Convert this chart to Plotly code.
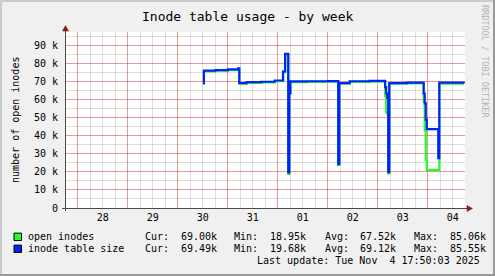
import plotly.graph_objects as go

# ---------------- data ----------------
times = [
    "2025-10-30 12:00", "2025-10-30 12:30", "2025-10-30 18:00", "2025-10-31 00:00",
    "2025-10-31 05:00", "2025-10-31 05:30", "2025-10-31 09:00", "2025-10-31 16:00",
    "2025-10-31 22:30", "2025-11-01 02:30", "2025-11-01 03:30", "2025-11-01 05:00",
    "2025-11-01 05:30", "2025-11-01 06:00", "2025-11-01 14:00", "2025-11-02 00:00",
    "2025-11-02 05:00", "2025-11-02 05:30", "2025-11-02 10:30", "2025-11-02 20:00",
    "2025-11-03 03:30", "2025-11-03 04:00", "2025-11-03 04:30", "2025-11-03 05:00",
    "2025-11-03 05:30", "2025-11-03 14:00", "2025-11-03 21:30", "2025-11-03 22:00",
    "2025-11-03 22:30", "2025-11-03 23:00", "2025-11-03 23:30", "2025-11-04 05:00",
    "2025-11-04 05:30", "2025-11-04 12:00", "2025-11-04 17:30",
]
open_inodes = [
    68900, 75800, 76100, 76500,
    77000, 68900, 69400, 69600,
    70300, 75300, 85060, 18950,
    63300, 69800, 69900, 70000,
    23900, 68900, 69900, 70100,
    62000, 53000, 52000, 19200,
    69000, 69100, 69200, 59000,
    43000, 26600, 21100, 21100,
    69000, 69000, 69000,
]
inode_table_size = [
    69300, 76200, 76500, 76900,
    77400, 69300, 69800, 70000,
    70700, 75700, 85550, 19680,
    63700, 70200, 70300, 70400,
    24300, 69300, 70300, 70500,
    67000, 63500, 61000, 19900,
    69300, 69500, 69600, 63500,
    58000, 49000, 43700, 27600,
    69500, 69500, 69490,
]

series_names = ["open inodes", "inode table size"]
series_colors = ["#22ff22", "#0022ff"]
stat_cur = ["69.00k", "69.49k"]
stat_min = ["18.95k", "19.68k"]
stat_avg = ["67.52k", "69.12k"]
stat_max = ["85.06k", "85.55k"]

y_tickvals = [0, 10000, 20000, 30000, 40000, 50000, 60000, 70000, 80000, 90000]
y_ticktext = ["0", "10 k", "20 k", "30 k", "40 k", "50 k", "60 k", "70 k", "80 k", "90 k"]

day_midnights = ["2025-10-28", "2025-10-29", "2025-10-30", "2025-10-31",
                 "2025-11-01", "2025-11-02", "2025-11-03", "2025-11-04"]
day_noons = [d + " 12:00" for d in day_midnights]
day_labels = ["28", "29", "30", "31", "01", "02", "03", "04"]

x_range = ["2025-10-27 17:50:03", "2025-11-04 17:50:03"]
y_range = [0, 97600]

title_text = "Inode table usage - by week"
y_title = "number of open inodes"
last_update = "Last update: Tue Nov\u00a0\u00a04 17:50:03 2025"
credit = "RRDTOOL / TOBI OETIKER"

# ---------------- geometry ----------------
FIG_W, FIG_H = 495, 276
L, T, W, H = 65, 32, 400, 176
FONT = "DejaVu Sans Mono"


def px(x):
    return (x - L) / W


def py(y):
    return (T + H - y) / H


fig = go.Figure()

for name, vals, col in zip(series_names, [open_inodes, inode_table_size], series_colors):
    fig.add_trace(go.Scatter(
        x=times, y=vals, mode="lines", name=name,
        line=dict(color=col, width=2.2, shape="hv"),
        hoverinfo="skip", showlegend=False,
    ))

# dummy trace to carry the label axis
fig.add_trace(go.Scatter(x=[times[0]], y=[None], xaxis="x2", mode="lines",
                         showlegend=False, hoverinfo="skip"))

fig.update_layout(
    width=FIG_W, height=FIG_H,
    margin=dict(l=L, r=FIG_W - L - W, t=T, b=FIG_H - T - H, pad=0),
    paper_bgcolor="#f0f0f0", plot_bgcolor="#ffffff",
    font=dict(family=FONT, size=10, color="#000000"),
    showlegend=False,
    xaxis=dict(
        type="date", range=x_range, tickmode="array", tickvals=day_midnights,
        ticktext=[""] * len(day_midnights), showgrid=True,
        gridcolor="rgba(255,0,0,0.3)", gridwidth=1, ticks="", zeroline=False,
        showline=False,
        minor=dict(dtick=6 * 3600 * 1000, tick0="2025-10-28 00:00", showgrid=True,
                   gridcolor="rgba(0,0,0,0.13)", gridwidth=1),
    ),
    xaxis2=dict(
        type="date", range=x_range, overlaying="x", anchor="y", side="bottom",
        tickmode="array", tickvals=day_noons, ticktext=day_labels,
        showgrid=False, zeroline=False, showline=False, ticks="",
        tickfont=dict(family=FONT, size=10, color="#000000"),
        ticklabelstandoff=2,
    ),
    yaxis=dict(
        range=y_range, tickmode="array", tickvals=y_tickvals, ticktext=y_ticktext,
        showgrid=True, gridcolor="rgba(255,0,0,0.3)", gridwidth=1,
        zeroline=False, showline=False, ticks="",
        tickfont=dict(family=FONT, size=10, color="#000000"),
        ticklabelstandoff=6,
        minor=dict(dtick=5000, tick0=0, showgrid=True,
                   gridcolor="rgba(0,0,0,0.13)", gridwidth=1),
    ),
)

shapes = []
# outer frame (3D shading)
shapes.append(dict(type="rect", xref="paper", yref="paper",
                   x0=px(0), x1=px(2), y0=py(FIG_H), y1=py(0),
                   fillcolor="#cbcbcb", line=dict(width=0), layer="above"))
shapes.append(dict(type="rect", xref="paper", yref="paper",
                   x0=px(0), x1=px(FIG_W), y0=py(2), y1=py(0),
                   fillcolor="#cbcbcb", line=dict(width=0), layer="above"))
shapes.append(dict(type="rect", xref="paper", yref="paper",
                   x0=px(FIG_W - 2), x1=px(FIG_W), y0=py(FIG_H), y1=py(0),
                   fillcolor="#999999", line=dict(width=0), layer="above"))
shapes.append(dict(type="rect", xref="paper", yref="paper",
                   x0=px(0), x1=px(FIG_W), y0=py(FIG_H), y1=py(FIG_H - 2),
                   fillcolor="#999999", line=dict(width=0), layer="above"))
# axis lines
AX = "#4a4a4a"
shapes.append(dict(type="line", xref="paper", yref="paper",
                   x0=px(62), x1=px(468), y0=py(208.5), y1=py(208.5),
                   line=dict(color=AX, width=1), layer="above"))
shapes.append(dict(type="line", xref="paper", yref="paper",
                   x0=px(65.5), x1=px(65.5), y0=py(211), y1=py(29),
                   line=dict(color=AX, width=1), layer="above"))
# arrows
AR = "#8b1a1a"
shapes.append(dict(type="path", xref="paper", yref="paper",
                   path=f"M {px(62.5)} {py(31)} L {px(65.5)} {py(25.5)} L {px(68.5)} {py(31)} Z",
                   fillcolor=AR, line=dict(color=AR, width=0.5), layer="above"))
shapes.append(dict(type="path", xref="paper", yref="paper",
                   path=f"M {px(467)} {py(205.5)} L {px(472.5)} {py(208.5)} L {px(467)} {py(211.5)} Z",
                   fillcolor=AR, line=dict(color=AR, width=0.5), layer="above"))
# legend squares
for i, col in enumerate(series_colors):
    yc = 236.8 + 12 * i
    shapes.append(dict(type="rect", xref="paper", yref="paper",
                       x0=px(14), x1=px(21.5), y0=py(yc + 3.7), y1=py(yc - 3.7),
                       fillcolor=col, line=dict(color="#000000", width=1), layer="above"))
fig.update_layout(shapes=shapes)

ann = []


def text(x, y, s, anchor="left", size=10, color="#000000", angle=0):
    ann.append(dict(xref="paper", yref="paper", x=px(x), y=py(y), text=s,
                    showarrow=False, xanchor=anchor, yanchor="middle",
                    textangle=angle,
                    font=dict(family=FONT, size=size, color=color)))


text(247.5, 16.5, title_text, anchor="center", size=13)
text(15, 120, y_title, anchor="center", angle=-90)
text(485, 61, credit, anchor="center", size=8.5, color="#b4b4b4", angle=90)

for i, name in enumerate(series_names):
    yc = 236.8 + 12 * i
    text(26, yc, name)
    text(143, yc, "Cur:")
    text(218.5, yc, stat_cur[i], anchor="right")
    text(232, yc, "Min:")
    text(307.5, yc, stat_min[i], anchor="right")
    text(322.5, yc, "Avg:")
    text(397.5, yc, stat_avg[i], anchor="right")
    text(412, yc, "Max:")
    text(488, yc, stat_max[i], anchor="right")
text(481.5, 260.8, last_update, anchor="right")

fig.update_layout(annotations=ann)

fig.write_html("out.html")
